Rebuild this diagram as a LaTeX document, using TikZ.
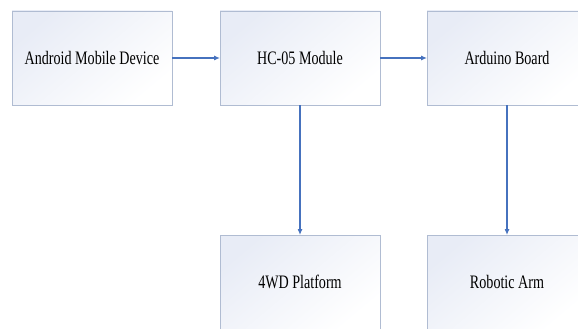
\documentclass[tikz,border=0pt]{standalone}
\usepackage{fontspec}
\setmainfont{Liberation Serif}
\usetikzlibrary{arrows.meta}
\definecolor{boxline}{RGB}{176,188,210}
\definecolor{boxtint}{RGB}{232,236,246}
\definecolor{flowblue}{RGB}{70,114,190}
\tikzset{
    block/.style={draw=boxline, line width=0.9pt, top color=boxtint, bottom color=white,
        shading angle=40, minimum width=160pt, minimum height=94pt, inner sep=0pt,
        outer sep=0pt, font=\rmfamily\fontsize{14.1}{16}\selectfont},
    flow/.style={draw=flowblue, line width=1.1pt, -{Latex[length=6pt,width=5pt]}}
}
\newcommand{\tall}[1]{\scalebox{1}[1.35]{#1}}
\begin{document}
\begin{tikzpicture}[x=1pt, y=-1pt]
                \useasboundingbox (0, 0) rectangle (578, 329);
                \begin{scope}
                    \clip (0, 0) rectangle (578, 329);
                    \node[block] (android) at (92, 58) {\tall{Android Mobile Device}};
                    \node[block] (hc) at (300, 58) {\tall{HC-05 Module}};
                    \node[block] (arduino) at (507, 58) {\tall{Arduino Board}};
                    \node[block] (platform) at (300, 282) {\tall{4WD Platform}};
                    \node[block] (arm) at (507, 282) {\tall{Robotic Arm}};
                \end{scope}
                \draw[flow] (android) -- (hc);
                \draw[flow] (hc) -- (arduino);
                \draw[flow] (hc.south) -- (platform.north);
                \draw[flow] (arduino.south) -- (arm.north);
            \end{tikzpicture}
\end{document}
